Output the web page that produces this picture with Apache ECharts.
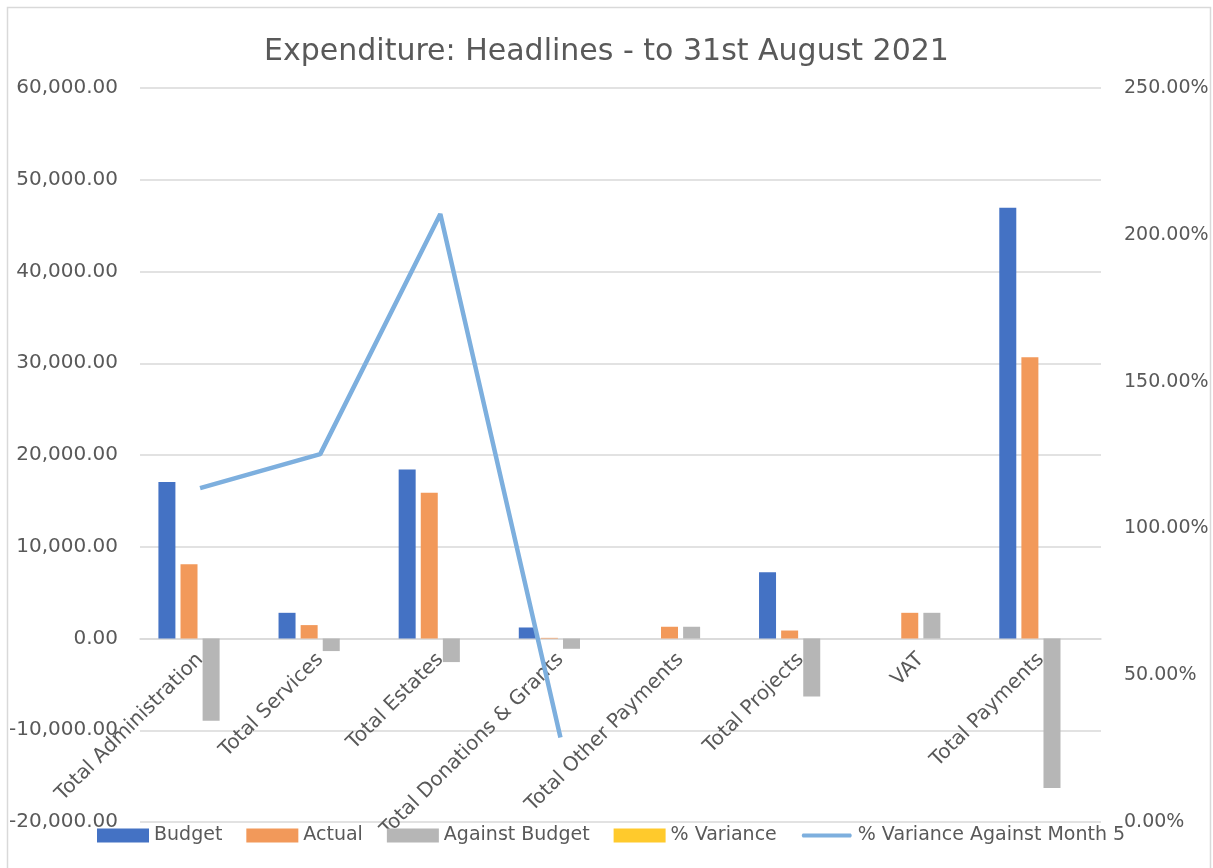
<!DOCTYPE html>
<html>
<head>
<meta charset="utf-8">
<script src="https://cdn.jsdelivr.net/npm/echarts@6/dist/echarts.min.js"></script>
<style>
html,body{margin:0;padding:0;background:#fff;}
#chart{width:1213px;height:868px;}
</style>
</head>
<body>
<div id="chart"></div>
<script>
const categories = ["Total Administration","Total Services","Total Estates","Total Donations & Grants","Total Other Payments","Total Projects","VAT","Total Payments"];
const budget = [17050, 2800, 18420, 1200, 0, 7230, 0, 46950];
const actual = [8080, 1460, 15880, 70, 1280, 870, 2800, 30660];
const againstBudget = [-8970, -1370, -2570, -1120, 1280, -6320, 2800, -16290];
const pctVariance = [null, null, null, null, null, null, null, null];
const pctVarianceMonth5 = [1.137, 1.253, 2.071, 0.288, null, null, null, null];

const FONT = "'DejaVu Sans', 'Open Sans', sans-serif";
const TXT = '#595959';
const PLOT_TOP = 88, PLOT_BOTTOM = 46, H = 868;
const Y_MIN = -20000, Y_MAX = 60000;
const plotH = H - PLOT_TOP - PLOT_BOTTOM;
const zeroOffset = -plotH * (0 - Y_MIN) / (Y_MAX - Y_MIN);
const chart = echarts.init(document.getElementById('chart'));
const fmtNum = v => v.toLocaleString('en-US', {minimumFractionDigits: 2, maximumFractionDigits: 2});
const barCommon = {type: 'bar', barWidth: 17, barGap: '30%', barCategoryGap: '31%', yAxisIndex: 0};
chart.setOption({
  animation: false,
  textStyle: {fontFamily: FONT},
  title: {
    text: 'Expenditure: Headlines - to 31st August 2021',
    left: 'center', top: 32,
    textStyle: {fontFamily: FONT, fontSize: 30, fontWeight: 'normal', color: TXT}
  },
  graphic: [{
    type: 'rect', shape: {x: 7.5, y: 7.5, width: 1203, height: 870},
    style: {fill: 'none', stroke: '#d9d9d9', lineWidth: 1.5}, silent: true
  }],
  legend: {
    left: 92, top: 821,
    itemWidth: 52, itemHeight: 14, itemGap: 24,
    textStyle: {fontFamily: FONT, fontSize: 19, color: TXT},
    data: [
      {name: 'Budget', icon: 'rect'},
      {name: 'Actual', icon: 'rect'},
      {name: 'Against Budget', icon: 'rect'},
      {name: '% Variance', icon: 'rect'},
      {name: '% Variance Against Month 5', icon: 'path://M0,0 M52,14 M2,5 L50,5 Q52,7 50,9 L2,9 Q0,7 2,5 Z'}
    ]
  },
  grid: {left: 140, right: 112, top: PLOT_TOP, bottom: PLOT_BOTTOM, containLabel: false, outerBoundsMode: 'none'},
  xAxis: {
    type: 'category', data: categories, position: 'bottom', offset: zeroOffset,
    axisLine: {show: true, onZero: false, lineStyle: {color: '#d9d9d9', width: 1.5}},
    axisTick: {show: false},
    axisLabel: {interval: 0, rotate: 45, margin: 18, fontFamily: FONT, fontSize: 20, color: TXT}
  },
  yAxis: [{
    type: 'value', min: Y_MIN, max: Y_MAX, interval: 10000,
    axisLine: {show: false}, axisTick: {show: false},
    splitLine: {lineStyle: {color: '#d9d9d9', width: 1.5}},
    axisLabel: {margin: 22, fontFamily: FONT, fontSize: 20, color: TXT, formatter: fmtNum}
  }, {
    type: 'value', min: 0, max: 2.5, interval: 0.5,
    axisLine: {show: false}, axisTick: {show: false}, splitLine: {show: false},
    axisLabel: {margin: 23, fontFamily: FONT, fontSize: 19, color: TXT,
      formatter: v => (v * 100).toFixed(2) + '%'}
  }],
  series: [
    Object.assign({name: 'Budget', data: budget, itemStyle: {color: '#4472C4'}}, barCommon),
    Object.assign({name: 'Actual', data: actual, itemStyle: {color: '#F2995A'}}, barCommon),
    Object.assign({name: 'Against Budget', data: againstBudget, itemStyle: {color: '#B6B6B6'}}, barCommon),
    Object.assign({name: '% Variance', data: pctVariance, itemStyle: {color: '#FFCA2C'}}, barCommon),
    {
      name: '% Variance Against Month 5', type: 'line', yAxisIndex: 1,
      data: pctVarianceMonth5, symbol: 'none', connectNulls: false, z: 5,
      lineStyle: {color: '#7DAFDE', width: 4.5}, itemStyle: {color: '#7DAFDE'}
    }
  ]
});
</script>
</body>
</html>
